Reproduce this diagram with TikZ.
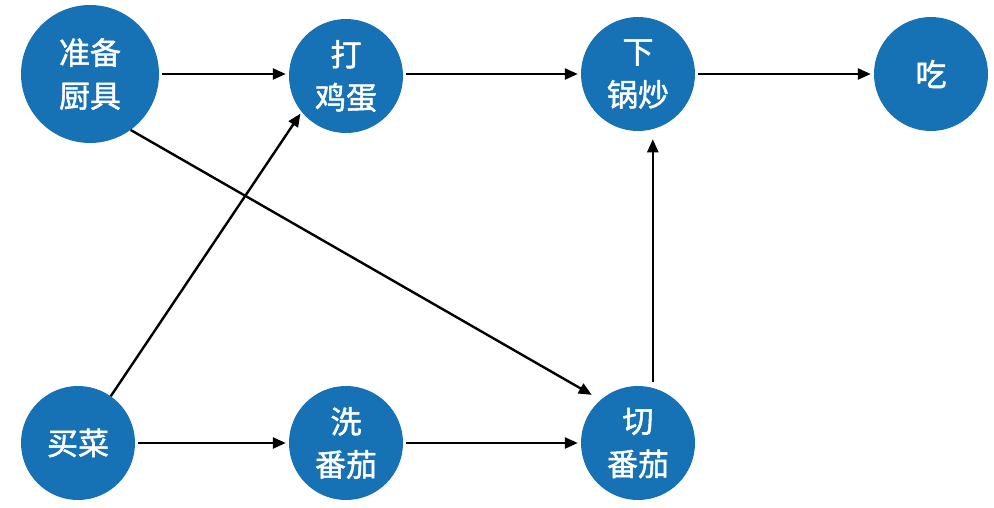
\documentclass[tikz,border=0pt]{standalone}
\usepackage{fontspec}
\setmainfont[FakeBold=1.5]{Noto Sans CJK SC}
\usetikzlibrary{arrows.meta}
\definecolor{nodeblue}{RGB}{22,114,180}
\begin{document}
\begin{tikzpicture}[x=1pt,y=-1pt,
  stepnode/.style={circle,fill=nodeblue,text=white,minimum size=114pt,inner sep=0pt,align=center,
    font=\fontsize{31}{43}\selectfont},
  bignode/.style={stepnode,minimum size=138pt},
  arr/.style={-{Triangle[length=13pt,width=11pt]},line width=2.4pt,black}]
\useasboundingbox (0,0) rectangle (994,507);
\node[bignode] (zhun) at (90,74) {准备\\厨具};
\node[stepnode] (da)  at (346,76) {打\\鸡蛋};
\node[stepnode] (xia) at (638,74) {下\\锅炒};
\node[stepnode] (chi) at (931,74) {吃};
\node[stepnode] (mai) at (78,443) {买菜};
\node[stepnode] (xi)  at (346,443) {洗\\番茄};
\node[stepnode] (qie) at (638,443) {切\\番茄};
\draw[arr,shorten >=3pt,shorten <=3pt] (zhun) -- (da.west |- zhun);
\draw[arr,shorten >=3pt,shorten <=3pt] (da.east |- xia) -- (xia);
\draw[arr,shorten >=3pt,shorten <=3pt] (xia) -- (chi);
\draw[arr,shorten >=3pt,shorten <=3pt] (mai) -- (xi);
\draw[arr,shorten >=3pt,shorten <=3pt] (xi) -- (qie);
\draw[arr,shorten >=2pt] (mai.55) -- (da.219);
\draw[arr,shorten >=10pt] (zhun.-54) -- (qie.131);
\draw[arr,shorten >=10pt,shorten <=6pt] (qie.75) -- (xia.-75);
\end{tikzpicture}
\end{document}
